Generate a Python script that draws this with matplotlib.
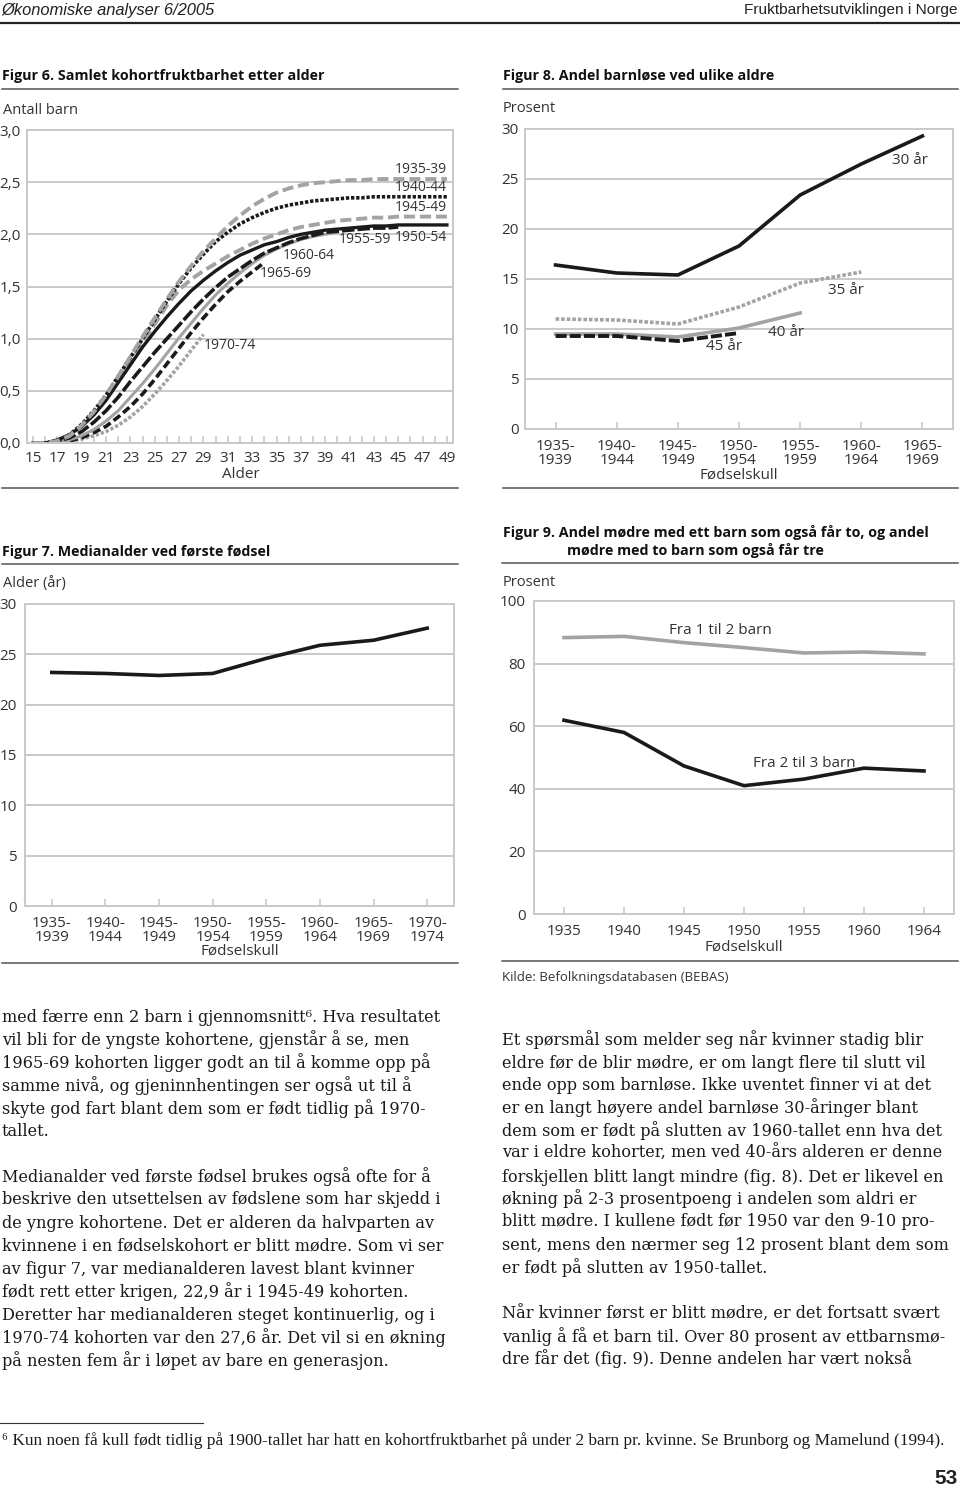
import matplotlib
matplotlib.use('Agg')
import matplotlib.pyplot as plt

plt.rcParams['lines.scale_dashes'] = False
W, H = 960, 1491
SANS = ['Open Sans', 'DejaVu Sans']
SERIF = ['DejaVu Serif']
BLK = '#1a1a1a'
GRY = '#a3a3a3'
FRAME = '#c9c9c9'

# --- Figur 6: cumulative cohort fertility by age ---
ages = list(range(15, 50))
c3539 = [0.00, 0.00, 0.02, 0.07, 0.17, 0.30, 0.46, 0.64, 0.83, 1.02,
         1.20, 1.38, 1.55, 1.70, 1.84, 1.96, 2.08, 2.18, 2.27, 2.34,
         2.40, 2.44, 2.47, 2.49, 2.50, 2.51, 2.52, 2.52, 2.53, 2.53,
         2.53, 2.53, 2.53, 2.53, 2.53]
c4044 = [0.00, 0.00, 0.02, 0.08, 0.18, 0.31, 0.46, 0.64, 0.82, 1.00,
         1.18, 1.36, 1.53, 1.68, 1.81, 1.93, 2.02, 2.10, 2.16, 2.21,
         2.25, 2.28, 2.30, 2.32, 2.33, 2.34, 2.35, 2.35, 2.36, 2.36,
         2.36, 2.36, 2.36, 2.36, 2.36]
c4549 = [0.00, 0.00, 0.02, 0.07, 0.16, 0.28, 0.43, 0.60, 0.78, 0.96,
         1.14, 1.32, 1.47, 1.57, 1.65, 1.72, 1.79, 1.85, 1.91, 1.96,
         2.00, 2.04, 2.07, 2.09, 2.11, 2.13, 2.14, 2.15, 2.16, 2.16,
         2.17, 2.17, 2.17, 2.17, 2.17]
c5054 = [0.00, 0.00, 0.03, 0.08, 0.16, 0.27, 0.41, 0.58, 0.75, 0.92,
         1.07, 1.21, 1.34, 1.46, 1.56, 1.65, 1.73, 1.80, 1.85, 1.90,
         1.93, 1.97, 2.00, 2.02, 2.04, 2.05, 2.06, 2.07, 2.08, 2.08,
         2.09, 2.09, 2.09, 2.09, 2.09]
c5559 = [0.00, 0.00, 0.02, 0.05, 0.11, 0.20, 0.31, 0.44, 0.59, 0.73,
         0.87, 1.00, 1.13, 1.26, 1.38, 1.49, 1.59, 1.67, 1.75, 1.82,
         1.87, 1.92, 1.96, 1.99, 2.02, 2.03, 2.04, 2.05, 2.06, 2.06,
         2.07]
c6064 = [0.00, 0.00, 0.01, 0.03, 0.07, 0.13, 0.21, 0.31, 0.44, 0.57,
         0.71, 0.86, 1.01, 1.15, 1.29, 1.42, 1.53, 1.63, 1.72, 1.80,
         1.86, 1.91, 1.95, 1.98, 2.00, 2.02]
c6569 = [0.00, 0.00, 0.01, 0.02, 0.05, 0.10, 0.16, 0.25, 0.35, 0.47,
         0.61, 0.76, 0.91, 1.06, 1.20, 1.33, 1.45, 1.55, 1.64, 1.73]
c7074 = [0.00, 0.00, 0.01, 0.02, 0.04, 0.07, 0.11, 0.17, 0.25, 0.35,
         0.47, 0.60, 0.74, 0.89, 1.04]
f6_ticks = [0.0, 0.5, 1.0, 1.5, 2.0, 2.5, 3.0]
f6_ticklabels = ['0,0', '0,5', '1,0', '1,5', '2,0', '2,5', '3,0']

# --- Figur 8: share childless at given ages ---
f8_cats = ['1935-\n1939', '1940-\n1944', '1945-\n1949', '1950-\n1954',
           '1955-\n1959', '1960-\n1964', '1965-\n1969']
bl30 = [16.4, 15.6, 15.4, 18.3, 23.4, 26.5, 29.3]
bl35 = [11.0, 10.9, 10.5, 12.2, 14.6, 15.7]
bl40 = [9.5, 9.5, 9.2, 10.1, 11.6]
bl45 = [9.3, 9.3, 8.8, 9.6]

# --- Figur 7: median age at first birth ---
f7_cats = ['1935-\n1939', '1940-\n1944', '1945-\n1949', '1950-\n1954',
           '1955-\n1959', '1960-\n1964', '1965-\n1969', '1970-\n1974']
median_age = [23.2, 23.1, 22.9, 23.1, 24.6, 25.9, 26.4, 27.6]

# --- Figur 9: progression ratios ---
f9_cats = ['1935', '1940', '1945', '1950', '1955', '1960', '1964']
fra1til2 = [88.3, 88.7, 86.7, 85.1, 83.4, 83.7, 83.1]
fra2til3 = [61.9, 58.0, 47.3, 41.0, 43.1, 46.6, 45.7]

left_text = [
    (1017, 'med færre enn 2 barn i gjennomsnitt⁶. Hva resultatet'),
    (1040, 'vil bli for de yngste kohortene, gjenstår å se, men'),
    (1063, '1965-69 kohorten ligger godt an til å komme opp på'),
    (1086, 'samme nivå, og gjeninnhentingen ser også ut til å'),
    (1109, 'skyte god fart blant dem som er født tidlig på 1970-'),
    (1131, 'tallet.'),
    (1177, 'Medianalder ved første fødsel brukes også ofte for å'),
    (1200, 'beskrive den utsettelsen av fødslene som har skjedd i'),
    (1223, 'de yngre kohortene. Det er alderen da halvparten av'),
    (1246, 'kvinnene i en fødselskohort er blitt mødre. Som vi ser'),
    (1269, 'av figur 7, var medianalderen lavest blant kvinner'),
    (1292, 'født rett etter krigen, 22,9 år i 1945-49 kohorten.'),
    (1315, 'Deretter har medianalderen steget kontinuerlig, og i'),
    (1338, '1970-74 kohorten var den 27,6 år. Det vil si en økning'),
    (1361, 'på nesten fem år i løpet av bare en generasjon.'),
]
right_text = [
    (1040, 'Et spørsmål som melder seg når kvinner stadig blir'),
    (1063, 'eldre før de blir mødre, er om langt flere til slutt vil'),
    (1085, 'ende opp som barnløse. Ikke uventet finner vi at det'),
    (1108, 'er en langt høyere andel barnløse 30-åringer blant'),
    (1131, 'dem som er født på slutten av 1960-tallet enn hva det'),
    (1153, 'var i eldre kohorter, men ved 40-års alderen er denne'),
    (1177, 'forskjellen blitt langt mindre (fig. 8). Det er likevel en'),
    (1199, 'økning på 2-3 prosentpoeng i andelen som aldri er'),
    (1222, 'blitt mødre. I kullene født før 1950 var den 9-10 pro-'),
    (1245, 'sent, mens den nærmer seg 12 prosent blant dem som'),
    (1268, 'er født på slutten av 1950-tallet.'),
    (1314, 'Når kvinner først er blitt mødre, er det fortsatt svært'),
    (1337, 'vanlig å få et barn til. Over 80 prosent av ettbarnsmø-'),
    (1359, 'dre får det (fig. 9). Denne andelen har vært nokså'),
]

fig = plt.figure(figsize=(W / 100, H / 100), dpi=100)


def T(x, y, s, **kw):
    kw.setdefault('va', 'center')
    kw.setdefault('family', SANS)
    return fig.text(x / W, 1 - y / H, s, **kw)


def rule(x0, x1, y, lw=1.1, color='#555555'):
    fig.add_artist(plt.Line2D([x0 / W, x1 / W], [1 - y / H, 1 - y / H],
                              color=color, lw=lw, transform=fig.transFigure))


def box(l, t, r, b):
    ax = fig.add_axes([l / W, 1 - b / H, (r - l) / W, (b - t) / H])
    for s in ax.spines.values():
        s.set_color(FRAME)
        s.set_linewidth(1.4)
    ax.grid(axis='y', color=FRAME, lw=1.4)
    ax.set_axisbelow(True)
    ax.tick_params(axis='y', length=0, labelsize=11, pad=4.5,
                   labelcolor='#333333')
    ax.tick_params(axis='x', which='both', direction='in', length=5,
                   width=1.2, color=FRAME, labelsize=11, pad=7,
                   labelcolor='#333333')
    return ax


def sans_ticks(ax, ls=0.95):
    for lab in ax.get_xticklabels() + ax.get_yticklabels():
        lab.set_family(SANS)
        lab.set_linespacing(ls)


TITLE = dict(fontsize=10.3, weight='bold', color='#111111')

# header
T(1, 10, 'Økonomiske analyser 6/2005', fontsize=11.9, style='italic',
  family=['Liberation Sans Narrow', 'Liberation Sans'], color='#222222')
T(958, 10, 'Fruktbarhetsutviklingen i Norge', fontsize=11.1, ha='right',
  family=['Liberation Sans Narrow', 'Liberation Sans'], color='#222222')
rule(0, 960, 23, lw=1.6, color='#222222')

# ---------------- Figur 6 ----------------
T(2, 76, 'Figur 6. Samlet kohortfruktbarhet etter alder', **TITLE)
rule(2, 458, 89)
T(3, 110, 'Antall barn', fontsize=10.5, color='#333333')
ax6 = box(27, 130, 453, 443)
ax6.set_xlim(14.5, 49.5)
ax6.set_ylim(0, 3)
ax6.set_yticks(f6_ticks, f6_ticklabels)
ax6.set_xticks(ages[::2])
ax6.set_xticks(ages[1::2], minor=True)
ax6.tick_params(axis='x', pad=6)
sans_ticks(ax6)
ax6.plot(ages[:len(c7074)], c7074, color=GRY, lw=2.6, ls=(0, (2.4, 1.4)))
ax6.plot(ages[:len(c6569)], c6569, color=BLK, lw=2.6, ls=(0, (6, 2.8)))
ax6.plot(ages[:len(c6064)], c6064, color=GRY, lw=2.2)
ax6.plot(ages[:len(c5559)], c5559, color=BLK, lw=2.6, ls=(0, (9, 2.2)))
ax6.plot(ages, c4549, color=GRY, lw=2.8, ls=(0, (8, 3.5)))
ax6.plot(ages, c5054, color=BLK, lw=2.4)
ax6.plot(ages, c4044, color=BLK, lw=2.6, ls=(0, (2.4, 1.3)))
ax6.plot(ages, c3539, color=GRY, lw=2.8, ls=(0, (8, 3.5)))
lab6 = dict(fontsize=10, color='#333333', family=SANS, va='center')
ax6.text(49, 2.62, '1935-39', ha='right', **lab6)
ax6.text(49, 2.45, '1940-44', ha='right', **lab6)
ax6.text(49, 2.26, '1945-49', ha='right', **lab6)
ax6.text(49, 1.97, '1950-54', ha='right', **lab6)
ax6.text(40.1, 1.95, '1955-59', ha='left', **lab6)
ax6.text(35.5, 1.80, '1960-64', ha='left', **lab6)
ax6.text(33.6, 1.62, '1965-69', ha='left', **lab6)
ax6.text(29.0, 0.93, '1970-74', ha='left', **lab6)
T(241, 475, 'Alder', fontsize=11, ha='center', color='#333333')
rule(2, 458, 488)

# ---------------- Figur 8 ----------------
T(503, 76, 'Figur 8. Andel barnløse ved ulike aldre', **TITLE)
rule(503, 958, 89)
T(503, 109, 'Prosent', fontsize=10.5, color='#333333')
ax8 = box(525, 129, 953, 429)
ax8.set_xlim(-0.5, 6.5)
ax8.set_ylim(0, 30)
ax8.set_yticks(range(0, 31, 5))
ax8.set_xticks(range(len(f8_cats)), f8_cats)
sans_ticks(ax8)
ax8.plot(range(len(bl40)), bl40, color=GRY, lw=2.6)
ax8.plot(range(len(bl45)), bl45, color=BLK, lw=2.8, ls=(0, (8, 2.2)))
ax8.plot(range(len(bl35)), bl35, color=GRY, lw=2.6, ls=(0, (2.6, 1.4)))
ax8.plot(range(len(bl30)), bl30, color=BLK, lw=2.6)
lab8 = dict(fontsize=11, color='#333333', family=SANS, va='center', ha='left')
ax8.text(5.51, 26.9, '30 år', **lab8)
ax8.text(4.45, 13.9, '35 år', **lab8)
ax8.text(3.47, 9.7, '40 år', **lab8)
ax8.text(2.46, 8.2, '45 år', **lab8)
T(739, 475, 'Fødselskull', fontsize=11, ha='center', color='#333333')
rule(503, 958, 488)

# ---------------- Figur 7 ----------------
T(2, 552, 'Figur 7. Medianalder ved første fødsel', **TITLE)
rule(2, 458, 564)
T(3, 584, 'Alder (år)', fontsize=10.5, color='#333333')
ax7 = box(25, 604, 454, 906)
ax7.set_xlim(-0.5, 7.5)
ax7.set_ylim(0, 30)
ax7.set_yticks(range(0, 31, 5))
ax7.set_xticks(range(len(f7_cats)), f7_cats)
ax7.tick_params(axis='y', pad=6)
sans_ticks(ax7)
ax7.plot(range(len(median_age)), median_age, color=BLK, lw=2.6)
T(240, 951, 'Fødselskull', fontsize=11, ha='center', color='#333333')
rule(2, 458, 963)

# ---------------- Figur 9 ----------------
T(503, 532, 'Figur 9. Andel mødre med ett barn som også får to, og andel',
  **TITLE)
T(567, 551, 'mødre med to barn som også får tre', **TITLE)
rule(502, 958, 563)
T(503, 582, 'Prosent', fontsize=10.5, color='#333333')
ax9 = box(534, 601, 954, 914)
ax9.set_xlim(-0.5, 6.5)
ax9.set_ylim(0, 100)
ax9.set_yticks(range(0, 101, 20))
ax9.set_xticks(range(len(f9_cats)), f9_cats)
ax9.tick_params(axis='y', pad=6)
sans_ticks(ax9)
ax9.plot(range(len(fra1til2)), fra1til2, color=GRY, lw=2.6)
ax9.plot(range(len(fra2til3)), fra2til3, color=BLK, lw=2.6)
lab9 = dict(fontsize=11, color='#333333', family=SANS, va='center', ha='left')
ax9.text(1.75, 90.7, 'Fra 1 til 2 barn', **lab9)
ax9.text(3.15, 48.2, 'Fra 2 til 3 barn', **lab9)
T(744, 947, 'Fødselskull', fontsize=11, ha='center', color='#333333')
rule(502, 958, 961)
T(502, 977, 'Kilde: Befolkningsdatabasen (BEBAS)', fontsize=9.5,
  color='#333333')

# ---------------- body text ----------------
for y, s in left_text:
    T(2, y, s, fontsize=11.6, family=SERIF, color='#1a1a1a')
for y, s in right_text:
    T(502, y, s, fontsize=11.6, family=SERIF, color='#1a1a1a')

rule(0, 203, 1423, lw=0.8, color='#333333')
T(2, 1441, '⁶ Kun noen få kull født tidlig på 1900-tallet har hatt en '
  'kohortfruktbarhet på under 2 barn pr. kvinne. Se Brunborg og '
  'Mamelund (1994).', fontsize=12.4, family=['Liberation Serif'],
  color='#1a1a1a')
T(958, 1478, '53', fontsize=15, weight='bold', ha='right',
  family=['Liberation Sans Narrow', 'Liberation Sans'], color='#222222')

fig.savefig('out.png', dpi=100)
